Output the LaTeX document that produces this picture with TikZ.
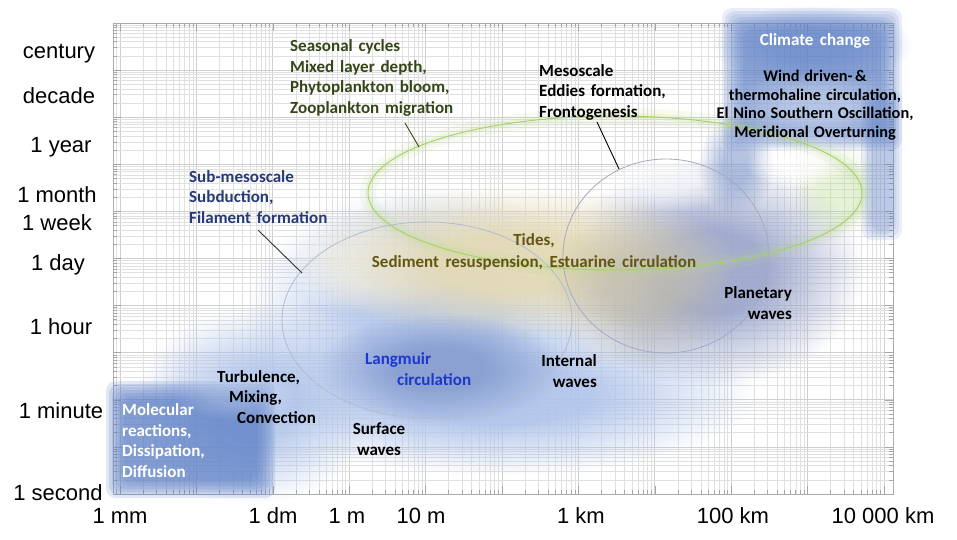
\documentclass[tikz,border=0pt]{standalone}
\usepackage{fontspec}
\newfontfamily\axisfont{Liberation Sans}
\newfontfamily\calibfont{Carlito}
\usetikzlibrary{fadings}

\pgfdeclareradialshading{softblobshade}{\pgfpointorigin}{color(0bp)=(white); color(9bp)=(white); color(25bp)=(black); color(50bp)=(black)}
\pgfdeclarefading{softblob}{\pgfuseshading{softblobshade}}

\definecolor{paleblue}{RGB}{176,196,234}
\definecolor{midblue}{RGB}{132,155,206}
\definecolor{deepblue}{RGB}{96,130,200}
\definecolor{beige}{RGB}{228,218,182}
\definecolor{grayblue}{RGB}{158,168,204}
\definecolor{warmgray}{RGB}{186,182,170}
\definecolor{greenhalo}{RGB}{185,218,140}
\definecolor{greenline}{RGB}{168,208,100}
\definecolor{ringblue}{RGB}{178,188,210}
\definecolor{ringgray}{RGB}{168,168,192}
\definecolor{seastext}{RGB}{52,70,24}
\definecolor{subtext}{RGB}{38,58,120}
\definecolor{tidetext}{RGB}{98,86,20}
\definecolor{langtext}{RGB}{30,55,205}

\newcommand\blobat[6]{\fill[#1, fill opacity=#2, path fading=softblob] (#3,#4) ellipse ({#5} and {#6});}
\newcommand\softrect[7]{\foreach \i in {0,...,#7}{\fill[#1, fill opacity=#2, rounded corners=10pt] ({#3+3*\i},{#4+3*\i}) rectangle ({#5-3*\i},{#6-3*\i});}}
\newcommand\widesp{\spaceskip 0.34em plus 0.1em\relax}
\newcommand\widerSp{\spaceskip 0.38em plus 0.1em\relax}
\newcommand\normalSp{\spaceskip 0.3em plus 0.1em\relax}

\tikzset{
  gridminor/.style={draw=gray!24, line width=0.5pt},
  gridmajor/.style={draw=gray!38, line width=0.7pt},
  tickmark/.style={draw=gray!70, line width=0.6pt},
  frame/.style={draw=gray!65, line width=0.8pt},
  axislbl/.style={font=\axisfont\fontsize{22}{26}\selectfont, inner sep=0pt, anchor=base},
  lbl/.style={font=\calibfont\bfseries\fontsize{17}{20.5}\selectfont\widesp, inner sep=0pt},
  pointer/.style={line width=0.9pt},
}

\begin{document}
\begin{tikzpicture}[x=1pt,y=-1pt]
\useasboundingbox (0,0) rectangle (957,539);
\fill[white] (0,0) rectangle (957,539);

% ---------- log grid ----------
\begin{scope}
\clip (113,23) rectangle (893,494);
\foreach \d in {-1,...,10}{
  \foreach \k in {2,...,9}{
    \draw[gridminor] ({120+76.4*(\d+log10(\k))},23) -- ++(0,471);
  }
  \draw[gridmajor] ({120+76.4*\d},23) -- ++(0,471);
}
\foreach \n in {-1,...,10}{
  \foreach \k in {2,...,9}{
    \draw[gridminor] (113,{494-47.1*(\n+log10(\k))}) -- ++(780,0);
  }
  \draw[gridmajor] (113,{494-47.1*\n}) -- ++(780,0);
}
\foreach \d in {-1,...,10}{
  \foreach \k in {2,...,9}{
    \draw[tickmark] ({120+76.4*(\d+log10(\k))},494) -- ++(0,-4);
    \draw[tickmark] ({120+76.4*(\d+log10(\k))},23) -- ++(0,4);
  }
  \draw[tickmark] ({120+76.4*\d},494) -- ++(0,-8);
  \draw[tickmark] ({120+76.4*\d},23) -- ++(0,8);
}
\foreach \n in {-1,...,10}{
  \foreach \k in {2,...,9}{
    \draw[tickmark] (113,{494-47.1*(\n+log10(\k))}) -- ++(4,0);
    \draw[tickmark] (893,{494-47.1*(\n+log10(\k))}) -- ++(-4,0);
  }
  \draw[tickmark] (113,{494-47.1*\n}) -- ++(8,0);
  \draw[tickmark] (893,{494-47.1*\n}) -- ++(-8,0);
}
\end{scope}
\draw[frame] (113,23) rectangle (893,494);

% ---------- blurred regions ----------
\blobat{paleblue}{0.85}{255}{405}{120}{98}
\blobat{paleblue}{0.9}{500}{395}{255}{80}
\blobat{paleblue}{0.85}{427}{318}{182}{132}
\blobat{white}{0.6}{372}{268}{88}{46}
\blobat{grayblue}{0.95}{712}{272}{152}{114}
\blobat{white}{0.55}{668}{180}{72}{30}
\blobat{beige}{0.95}{515}{262}{222}{76}
\blobat{warmgray}{0.6}{640}{290}{94}{78}
\blobat{midblue}{0.85}{440}{368}{122}{56}
\blobat{greenhalo}{0.35}{835}{190}{45}{50}
% climate change
\softrect{deepblue}{0.14}{722}{8}{902}{150}{7}
\blobat{deepblue}{0.45}{812}{45}{100}{40}
\blobat{white}{0.35}{815}{108}{90}{38}
\softrect{deepblue}{0.12}{862}{90}{902}{240}{3}
\blobat{midblue}{0.6}{736}{165}{38}{50}
\blobat{white}{0.7}{800}{165}{55}{22}
% molecular
\softrect{deepblue}{0.19}{106}{381}{275}{498}{6}
\blobat{white}{0.22}{235}{395}{62}{26}

% ---------- ellipses ----------
\draw[greenhalo, line width=16pt, opacity=0.12] (615,193) ellipse (247 and 77);
\draw[greenhalo, line width=6pt, opacity=0.16] (615,193) ellipse (247 and 77);
\draw[greenline, line width=0.9pt] (615,193) ellipse (247 and 77);
\draw[ringblue, line width=0.8pt] (427,320) ellipse (145 and 98);
\draw[ringgray, line width=0.8pt] (666,256) ellipse (103 and 97);

% ---------- pointers ----------
\coordinate (seasA) at (405,123);
\coordinate (seasB) at (419,147);
\coordinate (subA) at (258,230);
\coordinate (subB) at (302,273);
\coordinate (mesoA) at (597,122);
\coordinate (mesoB) at (619,169);
\draw[pointer, seastext] (seasA) -- (seasB);
\draw[pointer, black!80] (subA) -- (subB);
\draw[pointer, black] (mesoA) -- (mesoB);

% ---------- labels (anchored at the baseline of their last line) ----------
\node[lbl, seastext, align=left, anchor=base west] (seas) at (290,113)
  {Seasonal cycles\\Mixed layer depth,\\Phytoplankton bloom,\\Zooplankton migration};
\node[lbl, black, align=left, anchor=base west] (meso) at (539,117)
  {Mesoscale\\Eddies formation,\\Frontogenesis};
\node[lbl, white, anchor=base, font=\calibfont\bfseries\fontsize{17}{20.5}\selectfont\widerSp] (climate) at (815,45) {Climate change};
\node[lbl, black, align=center, anchor=base, font=\calibfont\bfseries\fontsize{16.3}{18.5}\selectfont\normalSp] (wind) at (815,137)
  {Wind driven-\,\&\\thermohaline circulation,\\El Nino Southern Oscillation,\\Meridional Overturning};
\node[lbl, subtext, align=left, anchor=base west] (sub) at (189,223)
  {Sub-mesoscale\\Subduction,\\Filament formation};
\node[lbl, tidetext, align=center, anchor=base, font=\calibfont\bfseries\fontsize{17}{22}\selectfont\widerSp] (tides) at (534,267)
  {Tides,\\Sediment resuspension, Estuarine circulation};
\node[lbl, black, align=right, anchor=base east] (planet) at (792,319)
  {Planetary\\waves};
\node[lbl, black, align=right, anchor=base east] (internal) at (597,387)
  {Internal\\waves};
\node[lbl, langtext, align=left, anchor=base west] (lang) at (365,385)
  {Langmuir\\\hspace*{32pt}circulation};
\node[lbl, black, align=left, anchor=base west] (turb) at (217,423)
  {Turbulence,\\\hspace*{12pt}Mixing,\\\hspace*{20pt}Convection};
\node[lbl, black, align=center, anchor=base] (surf) at (379,455)
  {Surface\\waves};
\node[lbl, white, align=left, anchor=base west] (mol) at (122,477)
  {Molecular\\reactions,\\Dissipation,\\Diffusion};

% ---------- axis labels ----------
\node[axislbl] (ycent) at (59,58) {century};
\node[axislbl] (ydec) at (59,103) {decade};
\node[axislbl] (yyear) at (61,152) {1 year};
\node[axislbl] (ymonth) at (57,202) {1 month};
\node[axislbl] (yweek) at (57,230) {1 week};
\node[axislbl] (yday) at (58,270) {1 day};
\node[axislbl] (yhour) at (61,334) {1 hour};
\node[axislbl] (ymin) at (61,418) {1 minute};
\node[axislbl] (ysec) at (58,500) {1 second};
\node[axislbl] (xmm) at (120,523) {1 mm};
\node[axislbl] (xdm) at (273,523) {1 dm};
\node[axislbl] (xm) at (347,523) {1 m};
\node[axislbl] (xtenm) at (421,523) {10 m};
\node[axislbl] (xkm) at (581,523) {1 km};
\node[axislbl] (xhkm) at (733,523) {100 km};
\node[axislbl] (xtkm) at (883,523) {10 000 km};
\end{tikzpicture}
\end{document}
